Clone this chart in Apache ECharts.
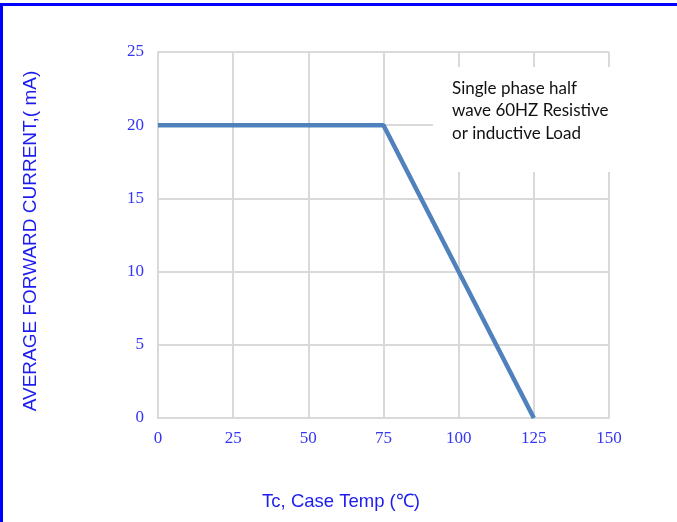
<!DOCTYPE html>
<html>
<head>
<meta charset="utf-8">
<script src="https://cdn.jsdelivr.net/npm/echarts@6/dist/echarts.min.js"></script>
<style>
html,body{margin:0;padding:0;background:#fff;}
#main{width:677px;height:522px;}
</style>
</head>
<body>
<div id="main"></div>
<script>
const tempC = [0, 75, 125];
const currentMA = [20, 20, 0];
const xTicks = [0, 25, 50, 75, 100, 125, 150];
const yTicks = [0, 5, 10, 15, 20, 25];
const yTitle = 'AVERAGE FORWARD CURRENT,( mA)';
const xTitle = 'Tc, Case Temp (\u2103)';
const noteLines = ['Single phase half', 'wave 60HZ Resistive', 'or inductive Load'];

const chart = echarts.init(document.getElementById('main'));
const gridColor = '#d9d9d9';
const tickColor = '#3535f5';
const titleColor = '#1c1cf0';
chart.setOption({
  animation: false,
  backgroundColor: '#fff',
  grid: {left: 158, right: 68, top: 52, bottom: 104, containLabel: false},
  xAxis: {
    type: 'value', min: xTicks[0], max: xTicks[xTicks.length-1], interval: 25,
    axisLine: {show: true, lineStyle: {color: gridColor, width: 2}},
    axisTick: {show: false},
    splitLine: {show: true, lineStyle: {color: gridColor, width: 2}},
    axisLabel: {color: tickColor, fontFamily: 'Liberation Serif', fontSize: 17, margin: 12}
  },
  yAxis: {
    type: 'value', min: yTicks[0], max: yTicks[yTicks.length-1], interval: 5,
    axisLine: {show: true, lineStyle: {color: gridColor, width: 2}},
    axisTick: {show: false},
    splitLine: {show: true, lineStyle: {color: gridColor, width: 2}},
    axisLabel: {color: tickColor, fontFamily: 'Liberation Serif', fontSize: 17, margin: 14}
  },
  series: [{
    type: 'line',
    data: tempC.map((t, i) => [t, currentMA[i]]),
    showSymbol: false,
    lineStyle: {color: '#4f81bd', width: 4.5},
    z: 3
  }],
  graphic: [
    {type: 'rect', shape: {x: 433, y: 67, width: 182, height: 105}, style: {fill: '#fff'}, z: 10},
    {type: 'text', x: 452, y: 77, z: 11,
      style: {text: noteLines.join('\n'), fill: '#111', font: '17px Lato', lineHeight: 22.5}},
    {type: 'text', x: 341, y: 502, z: 11,
      style: {text: xTitle, fill: titleColor, font: '18.5px "Liberation Sans"', align: 'center', verticalAlign: 'middle'}},
    {type: 'text', x: 31, y: 241, rotation: Math.PI / 2, z: 11,
      style: {text: yTitle, fill: titleColor, font: '19px "Liberation Sans"', align: 'center', verticalAlign: 'middle'}},
    {type: 'rect', shape: {x: 0, y: 3, width: 677, height: 3}, style: {fill: '#0000ff'}, z: 12},
    {type: 'rect', shape: {x: 0, y: 3, width: 3, height: 519}, style: {fill: '#0000ff'}, z: 12}
  ]
});
</script>
</body>
</html>
